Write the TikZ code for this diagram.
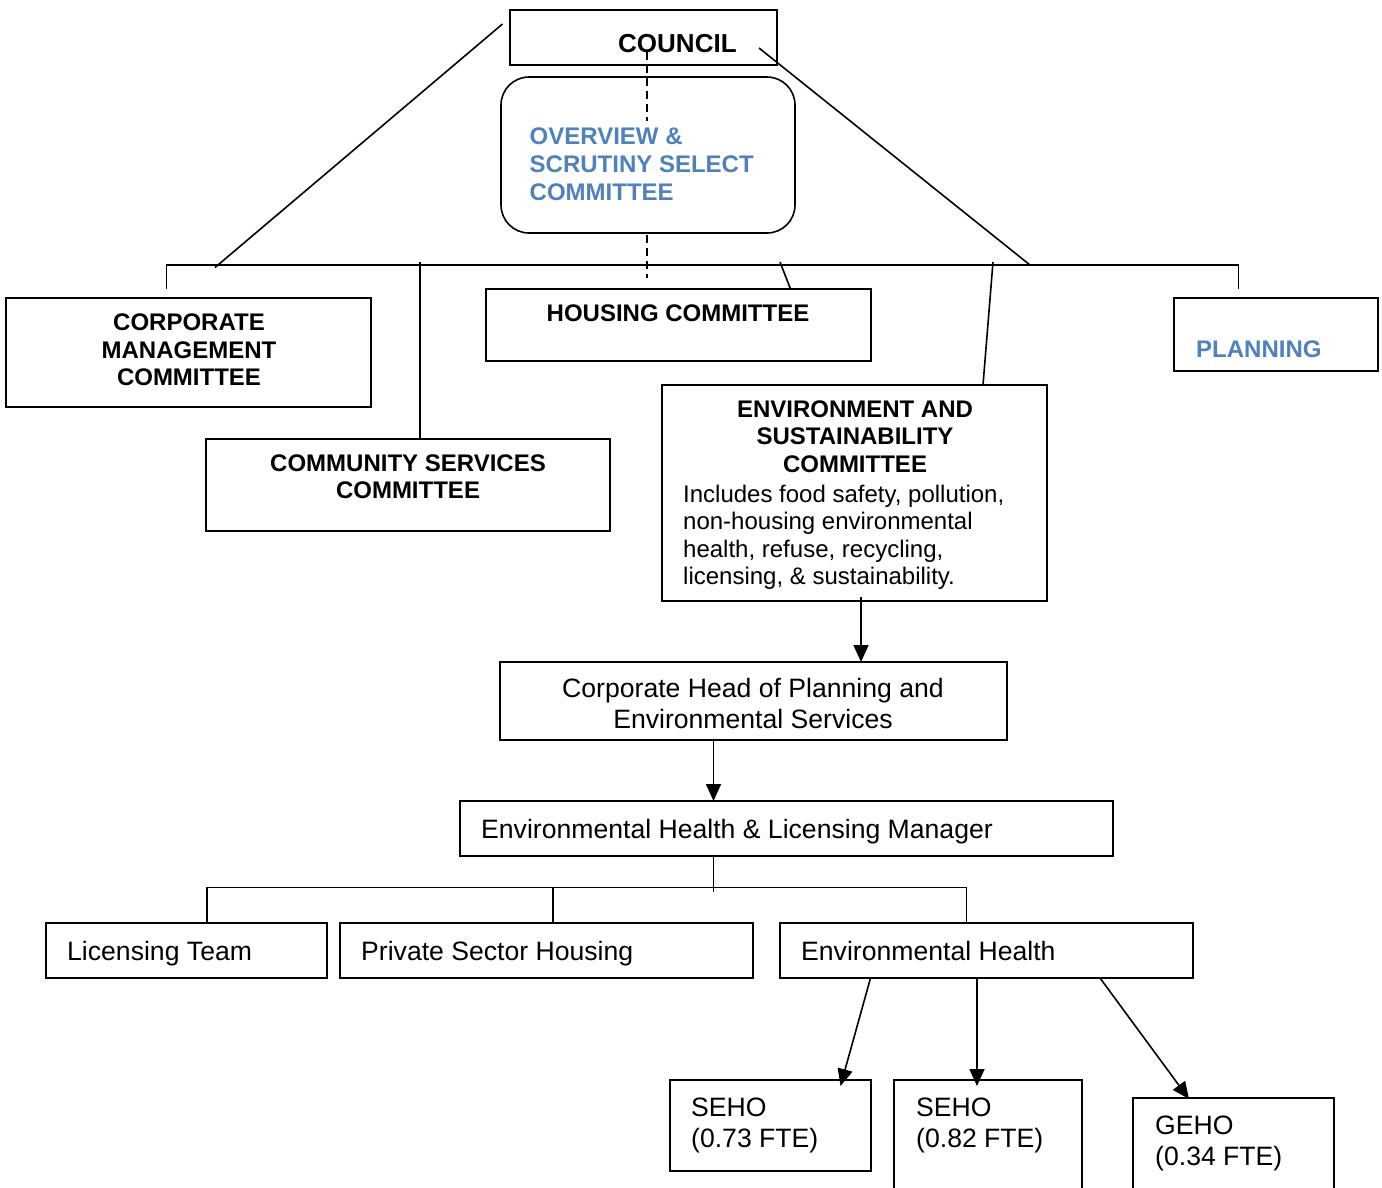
\documentclass[tikz,border=0pt]{standalone}
\usepackage{fontspec}
\setmainfont{Liberation Sans}
\usetikzlibrary{arrows.meta}
\definecolor{ofblue}{RGB}{79,129,189}
\begin{document}
\begin{tikzpicture}[x=1pt,y=-1pt,
  box/.style={draw,line width=1.6pt,inner sep=0pt,outer sep=0pt},
  ln/.style={line width=1.6pt},
  arr/.style={line width=1.6pt,-{Triangle[length=17pt,width=15pt]}},
  bold24/.style={inner sep=0pt,font={\fontsize{24}{27.5}\selectfont\bfseries}},
  reg24/.style={inner sep=0pt,font={\fontsize{24}{27.5}\selectfont}},
  reg26/.style={inner sep=0pt,font={\fontsize{26.6}{30.5}\selectfont}}]
\useasboundingbox (0,0) rectangle (1382,1187);
\clip (0,0) rectangle (1382,1187);
\fill[white] (0,0) rectangle (1382,1187);

% boxes
\node[box,minimum width=267pt,minimum height=55pt] (council) at (643.5,37.5) {};
\node[box,rounded corners=28pt,minimum width=294pt,minimum height=156pt] (overview) at (648,155) {};
\node[box,minimum width=365pt,minimum height=109pt] (cmc) at (188.5,352.5) {};
\node[box,minimum width=404pt,minimum height=92pt] (community) at (408,485) {};
\node[box,minimum width=385pt,minimum height=72pt] (housing) at (678.5,325) {};
\node[box,minimum width=385pt,minimum height=216pt] (esc) at (854.5,493) {};
\node[box,minimum width=204pt,minimum height=73pt] (planning) at (1276,334.5) {};
\node[box,minimum width=507pt,minimum height=78pt] (corphead) at (753.5,701) {};
\node[box,minimum width=653pt,minimum height=55pt] (ehlm) at (786.5,828.5) {};
\node[box,minimum width=281pt,minimum height=55pt] (lic) at (186.5,950.5) {};
\node[box,minimum width=413pt,minimum height=55pt] (psh) at (546.5,950.5) {};
\node[box,minimum width=413pt,minimum height=55pt] (eh) at (986.5,950.5) {};
\node[box,minimum width=201pt,minimum height=91pt] (seho1) at (770.5,1125.5) {};
\node[box,minimum width=188pt,minimum height=120pt] (seho2) at (988,1140) {};
\node[box,minimum width=201pt,minimum height=102pt] (geho) at (1233.5,1149) {};

% texts
\node[inner sep=0pt,anchor=north west,font={\fontsize{26}{30}\selectfont\bfseries}] (tcouncil) at (618,34) {COUNCIL};
\node[bold24,anchor=north west,align=left,text=ofblue,font={\fontsize{24}{28}\selectfont\bfseries}] (toverview) at (529.5,127.5) {OVERVIEW \&\\SCRUTINY SELECT\\COMMITTEE};
\node[bold24,anchor=north,align=center] (tcmc) at (189,314) {CORPORATE\\MANAGEMENT\\COMMITTEE};
\node[bold24,anchor=north,align=center] (tcommunity) at (408,454.5) {COMMUNITY SERVICES\\COMMITTEE};
\node[bold24,anchor=north] (thousing) at (678,304.5) {HOUSING COMMITTEE};
\node[bold24,anchor=north,align=center] (tesc) at (855,400.5) {ENVIRONMENT AND\\SUSTAINABILITY\\COMMITTEE};
\node[reg24,anchor=north west,align=left] (tescdesc) at (683,484.5) {Includes food safety, pollution,\\non-housing environmental\\health, refuse, recycling,\\licensing, \& sustainability.};
\node[bold24,anchor=north west,text=ofblue] (tplanning) at (1196,340.5) {PLANNING};
\node[reg26,anchor=north,align=center,font={\fontsize{26.6}{31}\selectfont}] (tcorphead) at (753,678) {Corporate Head of Planning and\\Environmental Services};
\node[reg26,anchor=north west] (tehlm) at (481,819.5) {Environmental Health \& Licensing Manager};
\node[reg26,anchor=north west] (tlic) at (67,941) {Licensing Team};
\node[reg26,anchor=north west] (tpsh) at (361,941) {Private Sector Housing};
\node[reg26,anchor=north west] (teh) at (801,941) {Environmental Health};
\node[reg26,anchor=north west,align=left] (tseho1) at (691,1098) {SEHO\\(0.73 FTE)};
\node[reg26,anchor=north west,align=left] (tseho2) at (916,1098) {SEHO\\(0.82 FTE)};
\node[reg26,anchor=north west,align=left] (tgeho) at (1155,1116) {GEHO\\(0.34 FTE)};

% named points for connectors
\coordinate (cl) at (502.5,24);
\coordinate (clend) at (215,267.5);
\coordinate (cr) at (759,48);
\coordinate (crend) at (1030,265);
\coordinate (busL) at (166.5,265);
\coordinate (busR) at (1238.5,265);
\coordinate (busLd) at (166.5,289);
\coordinate (busRd) at (1238.5,289);
\coordinate (comtop) at (420,262);
\coordinate (houtop) at (780,262);
\coordinate (housbot) at (790.5,289);
\coordinate (esctop) at (993,262);
\coordinate (escbot) at (983,385);
\coordinate (dash1a) at (647,52);
\coordinate (dash1b) at (647,121);
\coordinate (dash2a) at (647,235);
\coordinate (dash2b) at (647,278);
\coordinate (a1s) at (861,597);
\coordinate (a2s) at (713.5,740);
\coordinate (m1) at (713.5,856);
\coordinate (m2) at (713.5,891.5);
\coordinate (bL) at (207,887.5);
\coordinate (bM) at (553,887.5);
\coordinate (bR) at (966.5,887.5);
\coordinate (e1s) at (870.5,978);
\coordinate (e1t) at (840.5,1086);
\coordinate (e2s) at (977,978);
\coordinate (e2t) at (977,1086);
\coordinate (e3s) at (1100,978);
\coordinate (e3t) at (1189,1099);

% top connectors
\draw[ln] (cl) -- (clend);
\draw[ln] (cr) -- (crend);
\draw[ln] (busLd) -- (busL) -- (busR) -- (busRd);
\draw[ln] (comtop) -- (comtop |- community.north);
\draw[ln] (houtop) -- (housbot);
\draw[ln] (esctop) -- (escbot);
\draw[ln,dash pattern=on 8pt off 5pt] (dash1a) -- (dash1b);
\draw[ln,dash pattern=on 8pt off 5pt] (dash2a) -- (dash2b);

% lower connectors
\draw[arr] (a1s) -- (a1s |- corphead.north);
\draw[arr] (a2s) -- (a2s |- ehlm.north);
\draw[ln] (m1) -- (m2);
\draw[ln] (bL |- lic.north) -- (bL) -- (bR) -- (bR |- eh.north);
\draw[ln] (bM) -- (bM |- psh.north);
\draw[arr] (e1s) -- (e1t);
\draw[arr] (e2s) -- (e2t);
\draw[arr] (e3s) -- (e3t);
\end{tikzpicture}
\end{document}
